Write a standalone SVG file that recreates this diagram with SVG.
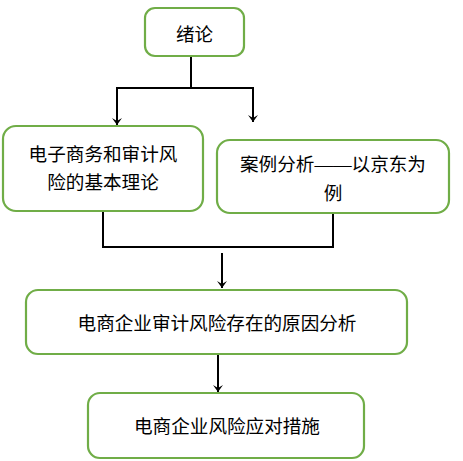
<svg xmlns="http://www.w3.org/2000/svg" width="463" height="461" viewBox="0 0 463 461">
<style>
.box{fill:#fff;stroke:#70AD47;stroke-width:2.2}
.t{font-family:"Liberation Serif","Noto Sans CJK SC",serif;font-size:18.6px;fill:#000;text-anchor:middle}
.ln{fill:none;stroke:#000;stroke-width:2}
.ar{fill:none;stroke:#000;stroke-width:2;marker-end:url(#ah)}
</style>
<defs>
<marker id="ah" markerUnits="userSpaceOnUse" markerWidth="10" markerHeight="12" viewBox="0 0 8 12" refX="7" refY="6" orient="auto">
<path d="M0,1 L7,6 L0,11 L3,6 Z" fill="#000"/>
</marker>
</defs>
<rect width="463" height="461" fill="#fff"/>
<g id="connectors">
<path class="ln" d="M191,56 V88 M116,88 H254"/>
<path class="ar" d="M117,88 V125"/>
<path class="ar" d="M253,88 V122"/>
<path class="ln" d="M103,211 V247 H333 V213"/>
<path class="ar" d="M222,253 V288"/>
<path class="ar" d="M218,346 V392"/>
</g>
<g id="n1">
<rect class="box" x="145" y="8" width="99" height="48" rx="10"/>
<text class="t" x="194.5" y="40.5">绪论</text>
</g>
<g id="n2">
<rect class="box" x="3" y="126" width="200" height="85" rx="13"/>
<text class="t" x="103" y="160.5">电子商务和审计风</text>
<text class="t" x="103" y="188.5">险的基本理论</text>
</g>
<g id="n3">
<rect class="box" x="217" y="140" width="232" height="73" rx="13"/>
<text class="t" x="333" y="170.5">案例分析——以京东为</text>
<text class="t" x="333" y="199.5">例</text>
</g>
<g id="n4">
<rect class="box" x="26" y="290" width="381" height="64" rx="12"/>
<text class="t" x="217" y="329.5">电商企业审计风险存在的原因分析</text>
</g>
<g id="n5">
<rect class="box" x="88" y="393" width="276" height="65" rx="12"/>
<text class="t" x="227" y="432.5">电商企业风险应对措施</text>
</g>
</svg>
